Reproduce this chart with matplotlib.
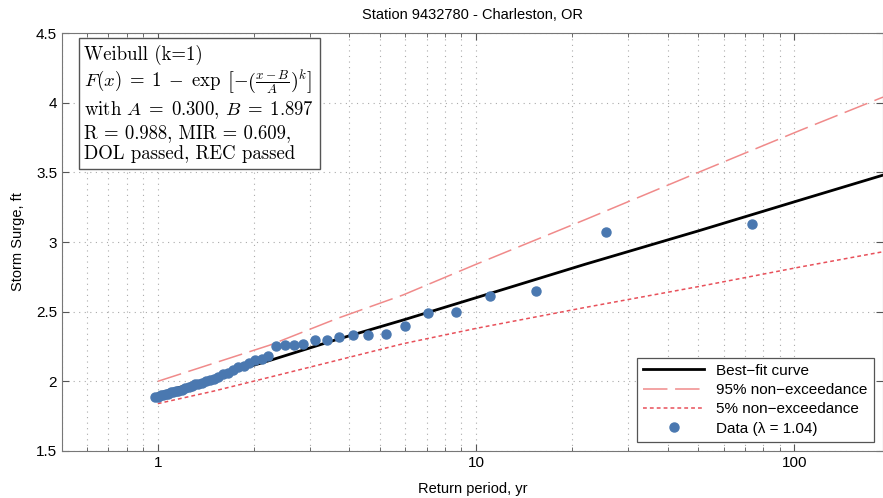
import numpy as np
import matplotlib
matplotlib.use('Agg')
import matplotlib.pyplot as plt
from matplotlib.ticker import FixedLocator, NullFormatter

plt.rcParams['font.family'] = ['Liberation Sans', 'DejaVu Sans']
plt.rcParams['mathtext.fontset'] = 'cm'

# data
ret_period = [0.98, 1.00, 1.02, 1.04, 1.06, 1.08, 1.10, 1.12, 1.14, 1.16,
              1.19, 1.22, 1.25, 1.28, 1.31, 1.34, 1.38, 1.42, 1.46, 1.50,
              1.55, 1.60, 1.66, 1.72, 1.79, 1.86, 1.94, 2.02, 2.12, 2.22,
              2.36, 2.51, 2.68, 2.86, 3.12, 3.39, 3.71, 4.10, 4.58, 5.20,
              5.98, 7.08, 8.65, 11.1, 15.4, 25.6, 73.6]
surge = [1.89, 1.89, 1.90, 1.90, 1.91, 1.91, 1.92, 1.92, 1.93, 1.93,
         1.94, 1.95, 1.96, 1.97, 1.98, 1.98, 1.99, 2.00, 2.01, 2.02,
         2.03, 2.05, 2.06, 2.08, 2.10, 2.11, 2.13, 2.15, 2.16, 2.18,
         2.25, 2.26, 2.26, 2.27, 2.30, 2.30, 2.32, 2.33, 2.33, 2.34,
         2.40, 2.49, 2.50, 2.61, 2.65, 3.07, 3.13]

curve_T = [1, 1.5, 2.25, 3.65, 5.9, 10, 22, 50, 104, 190]
best_fit = [1.91, 2.03, 2.15, 2.30, 2.44, 2.60, 2.84, 3.08, 3.30, 3.48]
upper95 = [2.00, 2.13, 2.26, 2.45, 2.62, 2.84, 3.16, 3.50, 3.80, 4.04]
lower5 = [1.84, 1.93, 2.03, 2.15, 2.27, 2.38, 2.53, 2.68, 2.82, 2.93]

fig = plt.figure(figsize=(8.83, 4.98), dpi=100)
ax = fig.add_axes([0.0702, 0.0944, 0.9298, 0.8393])

ax.plot(curve_T, best_fit, '-', color='black', lw=2.0, label='Best\u2212fit curve')
ax.plot(curve_T, upper95, color='#f08a8a', lw=1.1, dashes=[16, 5], label='95% non\u2212exceedance')
ax.plot(curve_T, lower5, color='#e8505a', lw=1.1, dashes=[2.5, 2], label='5% non\u2212exceedance')
ax.plot(ret_period, surge, 'o', color='#4a78b0', ms=6.5, mec='#4a78b0', label='Data (\u03bb = 1.04)')

ax.set_xscale('log')
ax.set_xlim(0.5, 190)
ax.set_ylim(1.5, 4.5)
ax.set_xticks([1, 10, 100])
ax.set_xticklabels(['1', '10', '100'])
ax.xaxis.set_minor_locator(FixedLocator([0.5, 0.6, 0.7, 0.8, 0.9] + [i for i in range(2, 10)]
                                        + [i * 10 for i in range(2, 10)] + [200]))
ax.xaxis.set_minor_formatter(NullFormatter())
ax.set_yticks([1.5, 2, 2.5, 3, 3.5, 4, 4.5])
ax.set_yticklabels(['1.5', '2', '2.5', '3', '3.5', '4', '4.5'])

ax.grid(which='major', axis='both', color='#aaaaaa', linestyle=(0, (1, 4)), linewidth=0.8)
ax.grid(which='minor', axis='x', color='#aaaaaa', linestyle=(0, (1, 4)), linewidth=0.8)
ax.tick_params(which='both', direction='in', top=True, right=True, labelsize=11, color='#555555')
ax.tick_params(which='major', length=5)
ax.tick_params(which='minor', length=3)
for s in ax.spines.values():
    s.set_color('#777777')

ax.set_xlabel('Return period, yr', fontsize=10.5, labelpad=9)
ax.set_ylabel('Storm Surge, ft', fontsize=10.5, labelpad=8)
ax.set_title('Station 9432780 - Charleston, OR', fontsize=10.5, pad=10)

info = ('Weibull (k=1)\n'
        r'$F(x)\;=\;1\;-\;\exp\;\left[-\left(\frac{x-B}{A}\right)^k\right]$' '\n'
        r'with $A\;=\;0.300$, $B\;=\;1.897$' '\n'
        'R = 0.988, MIR = 0.609,\n'
        'DOL passed, REC passed')
ax.text(0.027, 0.972, info, transform=ax.transAxes, va='top', ha='left',
        fontsize=13.5, family='cmr10', linespacing=1.2,
        bbox=dict(boxstyle='square,pad=0.3', fc='white', ec='#555555', lw=1))

leg = ax.legend(loc='lower right', numpoints=1, fontsize=11, handlelength=4,
                fancybox=False, framealpha=1, edgecolor='#555555',
                borderaxespad=0.6, labelspacing=0.35)
leg.get_frame().set_linewidth(0.9)

fig.savefig('out.png', dpi=100)
